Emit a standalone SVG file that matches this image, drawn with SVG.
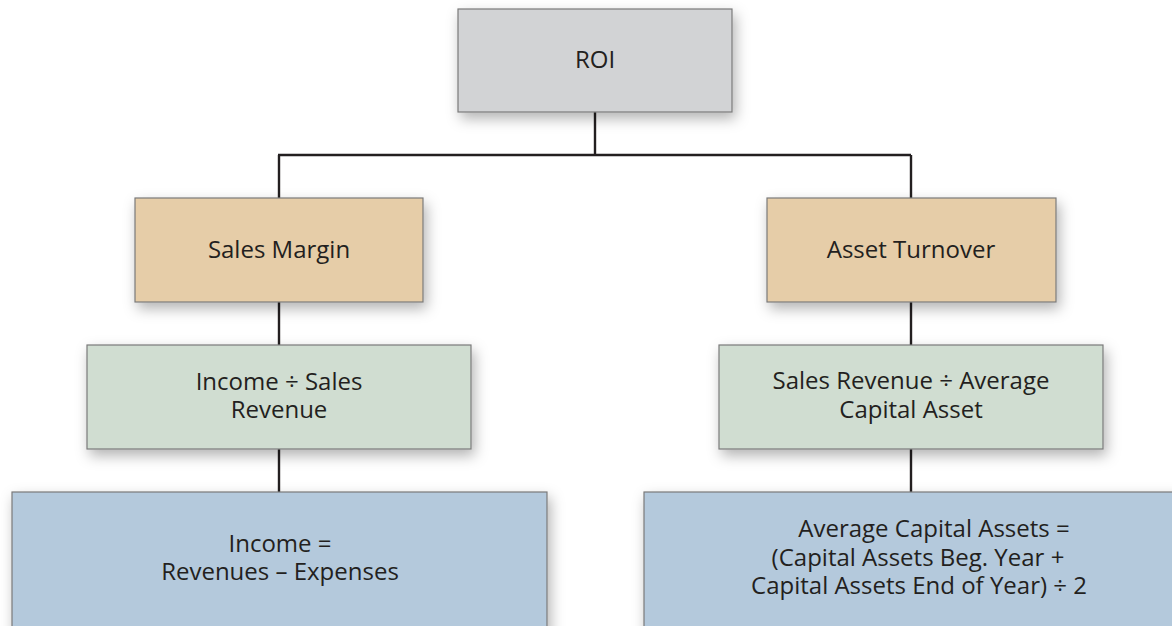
<svg xmlns="http://www.w3.org/2000/svg" width="1172" height="626" viewBox="0 0 1172 626">
<style>
.box{stroke:#7a7a7a;stroke-width:1.2;filter:url(#sh)}
.gray{fill:#d2d3d5}
.tan{fill:#e6cda8}
.green{fill:#d0ddd1}
.blue{fill:#b4c9dc}
.t{font-family:"Open Sans","Noto Sans",sans-serif;font-size:24px;fill:#231f20;text-anchor:middle}
.c{stroke:#231f20;stroke-width:2.4;fill:none}
</style>
<defs>
<filter id="sh" x="-10%" y="-20%" width="125%" height="150%">
<feDropShadow dx="3" dy="6" stdDeviation="7" flood-color="#000" flood-opacity="0.3"/>
</filter>
</defs>
<rect width="1172" height="626" fill="#ffffff"/>
<g id="connectors">
<path class="c" d="M595 112V155M278 155H911M279 155V198M911 155V198M279 302V345M911 302V345M279 449V492M911 449V492"/>
</g>
<g id="roi">
<rect class="box gray" x="458" y="9" width="274" height="103"/>
<text class="t" x="595" y="68">ROI</text>
</g>
<g id="sales-margin">
<rect class="box tan" x="135" y="198" width="288" height="104"/>
<text class="t" x="279" y="258">Sales Margin</text>
</g>
<g id="asset-turnover">
<rect class="box tan" x="767" y="198" width="289" height="104"/>
<text class="t" x="911" y="258">Asset Turnover</text>
</g>
<g id="income-sales">
<rect class="box green" x="87" y="345" width="384" height="104"/>
<text class="t" x="279" y="390">Income ÷ Sales</text>
<text class="t" x="279" y="418">Revenue</text>
</g>
<g id="sales-avg">
<rect class="box green" x="719" y="345" width="384" height="104"/>
<text class="t" x="911" y="389">Sales Revenue ÷ Average</text>
<text class="t" x="911" y="418">Capital Asset</text>
</g>
<g id="income-formula">
<rect class="box blue" x="12" y="492" width="535" height="150"/>
<text class="t" x="280" y="552">Income =</text>
<text class="t" x="280" y="580">Revenues – Expenses</text>
</g>
<g id="avg-capital">
<rect class="box blue" x="644" y="492" width="548" height="150"/>
<text class="t" x="934" y="537">Average Capital Assets =</text>
<text class="t" x="918" y="566">(Capital Assets Beg. Year +</text>
<text class="t" x="919" y="594">Capital Assets End of Year) ÷ 2</text>
</g>
</svg>
